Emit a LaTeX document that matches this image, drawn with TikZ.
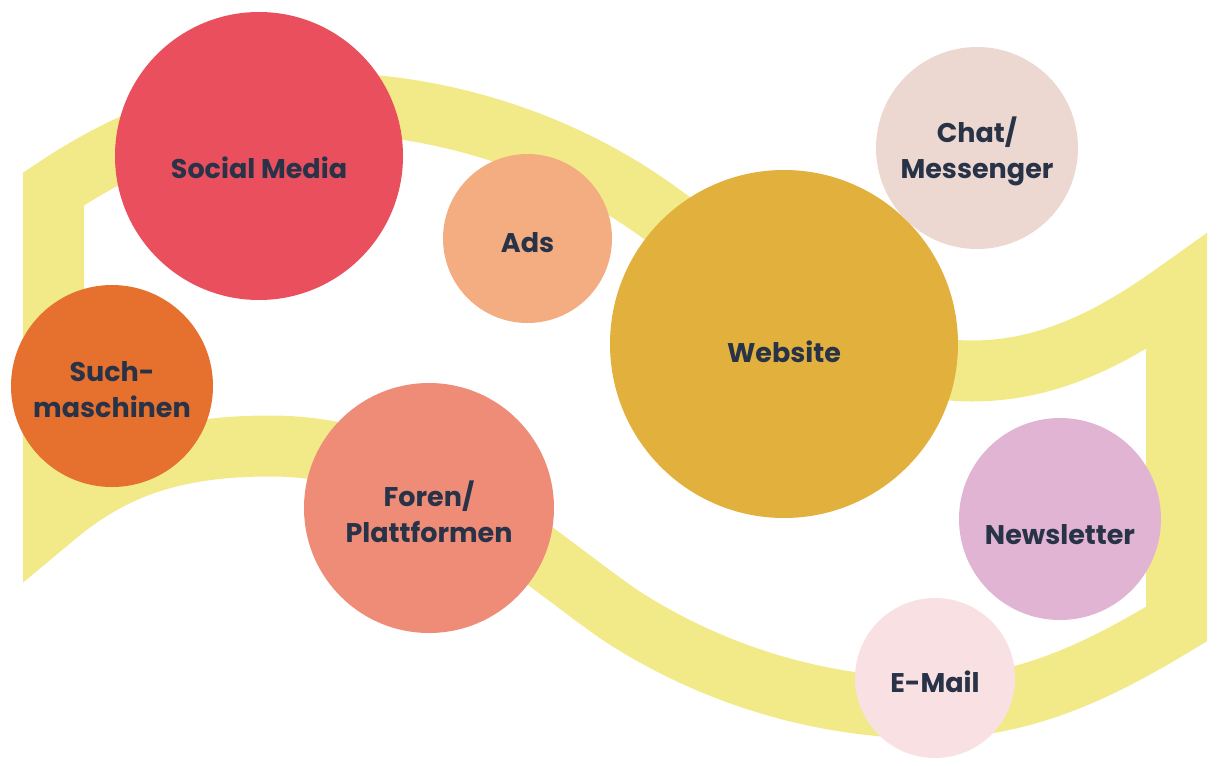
\documentclass[tikz,border=0pt]{standalone}
\usepackage{fontspec}
\setmainfont{Poppins}
\usepackage{tikz}
\usetikzlibrary{positioning}
\definecolor{bandyellow}{RGB}{242,234,136}
\definecolor{socialred}{RGB}{234,79,93}
\definecolor{adsorange}{RGB}{243,173,128}
\definecolor{webgold}{RGB}{226,176,61}
\definecolor{chatrose}{RGB}{237,216,209}
\definecolor{suchorange}{RGB}{230,112,46}
\definecolor{forensalmon}{RGB}{238,140,120}
\definecolor{newslilac}{RGB}{224,180,210}
\definecolor{mailpink}{RGB}{249,225,227}
\definecolor{navy}{RGB}{40,51,71}

\begin{document}
\begin{tikzpicture}[x=0.5pt,y=-0.5pt]
        \useasboundingbox (0,0) rectangle (1227,766);
        % yellow ribbon
        \draw[bandyellow, line width=30.5pt, line join=miter]
            (53.5,189) .. controls (128,139) and (220,100) .. (330,103)
            .. controls (440,105) and (560,140) .. (660,213)
            .. controls (780,300) and (870,371) .. (972,371)
            .. controls (1050,371) and (1115,336) .. (1176.5,292)
            -- (1176.5,624)
            .. controls (1110,664) and (1030,708) .. (930,708)
            .. controls (830,708) and (720,680) .. (620,615)
            .. controls (520,545) and (420,446) .. (270,446)
            .. controls (170,446) and (110,470) .. (53.5,517.5)
            -- cycle;
        \begin{scope}[every node/.style={circle, inner sep=0pt}]
            \node[fill=socialred, minimum size=144pt] (social) at (259,156) {};
            \node[fill=adsorange, minimum size=84.5pt] (ads) at (527.5,238.5) {};
            \node[fill=webgold, minimum size=174pt] (web) at (784,344) {};
            \node[fill=chatrose, minimum size=101pt] (chat) at (977,148) {};
            \node[fill=suchorange, minimum size=101pt] (such) at (112,386) {};
            \node[fill=forensalmon, minimum size=125pt] (foren) at (429,508) {};
            \node[fill=newslilac, minimum size=101pt] (news) at (1060,519) {};
            \node[fill=mailpink, minimum size=80pt] (mail) at (935,678) {};
        \end{scope}
        \begin{scope}[every node/.style={text=navy, align=center,
                      font=\bfseries\fontsize{13.5}{18}\selectfont}]
            \node (socialtxt) at ([yshift=-6pt]social.center) {Social Media};
            \node (adstxt) at ([yshift=-2pt]ads.center) {Ads};
            \node (webtxt) at ([yshift=-4pt]web.center) {Website};
            \node (chattxt) at ([yshift=-1.5pt]chat.center) {Chat/\\Messenger};
            \node (suchtxt) at ([yshift=-2pt]such.center) {Such-\\maschinen};
            \node (forentxt) at ([yshift=-2pt]foren.center) {Foren/\\Plattformen};
            \node (newstxt) at ([yshift=-8pt]news.center) {Newsletter};
            \node (mailtxt) at ([yshift=-2pt]mail.center) {E-Mail};
        \end{scope}
\end{tikzpicture}
\end{document}
